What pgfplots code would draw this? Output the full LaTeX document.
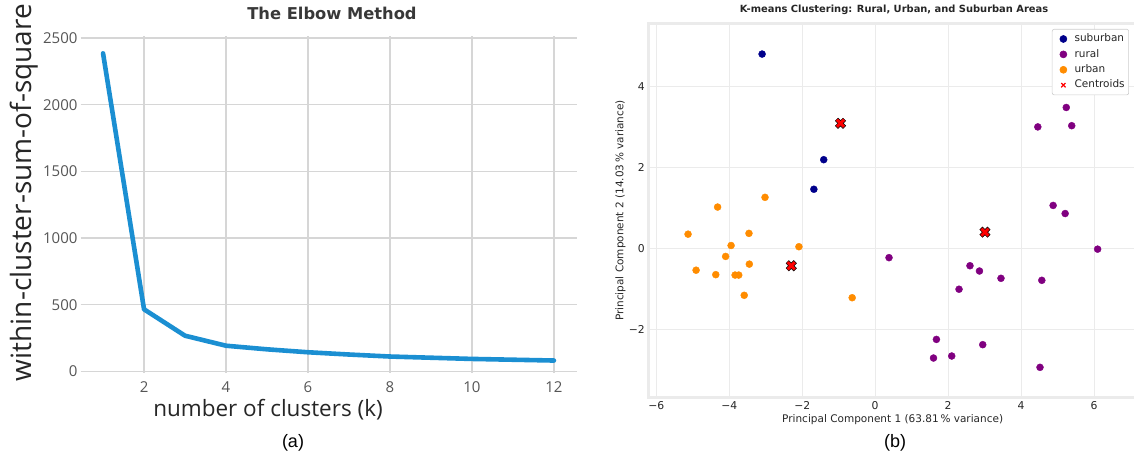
\documentclass[border=0pt]{standalone}
\usepackage{pgfplots}
\pgfplotsset{compat=1.18}
\usepackage{fontspec}
\setmainfont{DejaVu Sans}
\newfontfamily\opensans{Open Sans}
\newfontfamily\dejavu{DejaVu Sans}
\newfontfamily\arialf{Liberation Sans}
\definecolor{lineblue}{HTML}{1B8FD2}
\definecolor{gridA}{HTML}{D6D6D6}
\definecolor{tickA}{HTML}{555555}
\definecolor{gridB}{HTML}{EBEBEB}
\definecolor{suburban}{HTML}{00008B}
\definecolor{rural}{HTML}{800080}
\definecolor{urban}{HTML}{FF8C00}
\makeatletter
\pgfdeclareplotmark{fatx}{%
  \pgftransformrotate{45}%
  \pgfpathmoveto{\pgfqpoint{0.35\pgfplotmarksize}{0.35\pgfplotmarksize}}%
  \pgfpathlineto{\pgfqpoint{\pgfplotmarksize}{0.35\pgfplotmarksize}}%
  \pgfpathlineto{\pgfqpoint{\pgfplotmarksize}{-0.35\pgfplotmarksize}}%
  \pgfpathlineto{\pgfqpoint{0.35\pgfplotmarksize}{-0.35\pgfplotmarksize}}%
  \pgfpathlineto{\pgfqpoint{0.35\pgfplotmarksize}{-\pgfplotmarksize}}%
  \pgfpathlineto{\pgfqpoint{-0.35\pgfplotmarksize}{-\pgfplotmarksize}}%
  \pgfpathlineto{\pgfqpoint{-0.35\pgfplotmarksize}{-0.35\pgfplotmarksize}}%
  \pgfpathlineto{\pgfqpoint{-\pgfplotmarksize}{-0.35\pgfplotmarksize}}%
  \pgfpathlineto{\pgfqpoint{-\pgfplotmarksize}{0.35\pgfplotmarksize}}%
  \pgfpathlineto{\pgfqpoint{-0.35\pgfplotmarksize}{0.35\pgfplotmarksize}}%
  \pgfpathlineto{\pgfqpoint{-0.35\pgfplotmarksize}{\pgfplotmarksize}}%
  \pgfpathlineto{\pgfqpoint{0.35\pgfplotmarksize}{\pgfplotmarksize}}%
  \pgfpathclose
  \pgfusepathqfillstroke
}
\makeatother

\pgfplotstableread{
x y
1 2385
2 466
3 268
4 193
5 166
6 144
7 127
8 112
9 103
10 94
11 88
12 82
}\elbowdata

\pgfplotstableread{
x y
-3.10 4.80
-1.41 2.19
-1.68 1.46
}\suburbandata

\pgfplotstableread{
x y
5.24 3.48
4.46 3.00
5.39 3.03
4.88 1.06
5.21 0.86
6.10 -0.02
0.38 -0.23
2.60 -0.43
2.86 -0.56
3.45 -0.74
4.57 -0.79
2.30 -1.01
1.68 -2.25
1.60 -2.71
2.10 -2.66
2.95 -2.38
4.52 -2.94
}\ruraldata

\pgfplotstableread{
x y
-3.02 1.26
-4.32 1.02
-5.13 0.35
-3.46 0.37
-3.95 0.07
-2.09 0.04
-4.10 -0.20
-4.91 -0.54
-3.45 -0.39
-4.37 -0.65
-3.84 -0.66
-3.74 -0.66
-3.59 -1.16
-0.63 -1.22
}\urbandata

\pgfplotstableread{
x y
-0.95 3.09
3.01 0.40
-2.30 -0.43
}\centroiddata

\begin{document}
\begin{tikzpicture}
\useasboundingbox (0,0) rectangle (1134pt,460pt);
% ---------------- (a) Elbow ----------------
\begin{axis}[
  at={(80.5pt,87.2pt)}, anchor=south west,
  scale only axis, width=496pt, height=336.8pt,
  xmin=0.45, xmax=12.55, ymin=-10, ymax=2515,
  axis line style={draw=none},
  xtick={2,4,6,8,10,12}, ytick={0,500,1000,1500,2000,2500},
  major tick length=0pt,
  grid=major, major grid style={gridA, line width=1.4pt},
  /pgf/number format/assume math mode=true,
  /pgf/number format/1000 sep={},
  tick label style={font=\opensans\fontsize{15}{15}\selectfont, text=tickA},
  xticklabel style={yshift=-5pt},
  yticklabel style={xshift=0.5pt},
  title={The Elbow Method},
  title style={at={(axis description cs:0.5,1)}, anchor=base, yshift=10pt, xshift=3.5pt,
    font=\dejavu\bfseries\fontsize{16.3}{18}\selectfont, text=black!78},
  xlabel={number of clusters (k)},
  xlabel style={at={(axis description cs:0.378,0)}, anchor=base, yshift=-43.2pt,
    font=\opensans\fontsize{22.5}{24}\selectfont, text=black!85},
  ylabel={within-cluster-sum-of-square},
  ylabel style={at={(axis description cs:-0.0978,0.535)}, anchor=base,
    font=\opensans\fontsize{28}{30}\selectfont, text=black!85},
]
\addplot[lineblue, line width=4.6pt, line join=round, line cap=round] table[x=x,y=y] {\elbowdata};
\end{axis}
% ---------------- (b) K-means ----------------
\begin{axis}[
  at={(648.3pt,62.3pt)}, anchor=south west,
  scale only axis, width=488.7pt, height=374.4pt,
  xmin=-6.22, xmax=7.18, ymin=-3.69, ymax=5.56,
  axis line style={gridB, line width=2.5pt},
  xtick={-6,-4,-2,0,2,4,6}, xticklabels={{−6},{−4},{−2},{0},{2},{4},{6}},
  ytick={-2,0,2,4}, yticklabels={{−2},{0},{2},{4}},
  major tick length=0pt,
  grid=major, major grid style={gridB, line width=0.8pt},
  tick label style={font=\dejavu\fontsize{10.8}{12}\selectfont, text=black!85},
  xticklabel style={yshift=-0.5pt},
  yticklabel style={xshift=0pt},
  title={K-means Clustering: Rural, Urban, and Suburban Areas},
  title style={at={(axis description cs:0.5,1)}, anchor=base, yshift=4.3pt, xshift=1.4pt,
    font=\dejavu\bfseries\fontsize{9.9}{11}\selectfont, text=black!85},
  xlabel={Principal Component 1 (63.81\,\% variance)},
  xlabel style={at={(axis description cs:0.5,0)}, anchor=base, yshift=-24.8pt,
    font=\dejavu\fontsize{10.5}{12}\selectfont, text=black!85},
  ylabel={Principal Component 2 (14.03\,\% variance)},
  ylabel style={at={(axis description cs:-0.0569,0.5)}, anchor=center,
    font=\dejavu\fontsize{10.5}{12}\selectfont, text=black!85},
  legend style={at={(rel axis cs:0.9836,0.9848)}, anchor=north east,
    draw=black!20, line width=0.6pt, rounded corners=2pt, fill=white,
    font=\dejavu\fontsize{10.5}{12}\selectfont, text=black!85,
    inner xsep=2pt, inner ysep=2pt,
    nodes={text height=7.7pt, text depth=2.3pt, inner ysep=2.7pt},
    /tikz/every even column/.append style={column sep=4pt}},
  legend cell align=left,
  legend image code/.code={\path (0cm,0cm) (0.6cm,0cm); \draw[#1] plot coordinates {(0.3cm,0cm)};},
]
\addplot[only marks, mark=*, mark size=3.5pt, color=suburban, mark options={fill=suburban, draw=suburban}] table[x=x,y=y] {\suburbandata};
\addlegendentry{suburban}
\addplot[only marks, mark=*, mark size=3.5pt, color=rural, mark options={fill=rural, draw=rural}] table[x=x,y=y] {\ruraldata};
\addlegendentry{rural}
\addplot[only marks, mark=*, mark size=3.5pt, color=urban, mark options={fill=urban, draw=urban}] table[x=x,y=y] {\urbandata};
\addlegendentry{urban}
\addplot[only marks, mark=fatx, mark size=5.4pt, forget plot, mark options={fill=red, draw=black, line width=0.5pt}] table[x=x,y=y] {\centroiddata};
\addlegendimage{only marks, mark=x, mark size=3pt, red, line width=1.3pt}
\addlegendentry{Centroids}
\end{axis}
\node[font=\arialf\fontsize{18}{20}\selectfont, anchor=center] at (293pt,17pt) {(a)};
\node[font=\arialf\fontsize{18}{20}\selectfont, anchor=center] at (895pt,17pt) {(b)};
\end{tikzpicture}
\end{document}
